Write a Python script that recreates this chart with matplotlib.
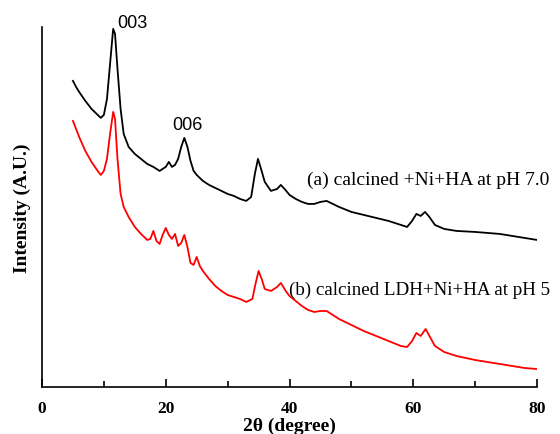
import matplotlib.pyplot as plt

# XRD patterns (2theta in degree, intensity in arbitrary units)
two_theta_a = [5.0, 5.5, 6.0, 7.0, 8.0, 9.0, 9.5, 10.0, 10.5, 11.0, 11.5, 11.8, 12.2, 12.7,
               13.2, 14.0, 15.0, 16.0, 17.0, 18.0, 19.0, 20.0, 20.5, 21.0, 21.5, 22.0, 22.5,
               23.0, 23.5, 24.0, 24.5, 25.0, 26.0, 27.0, 28.0, 29.0, 30.0, 31.0, 32.0, 33.0,
               33.8, 34.4, 34.9, 35.4, 36.0, 37.0, 38.0, 38.6, 39.2, 40.0, 41.0, 42.0, 43.0,
               44.0, 45.0, 46.0, 47.0, 48.0, 50.0, 52.0, 54.0, 56.0, 58.0, 59.0, 59.8, 60.5,
               61.2, 61.9, 62.6, 63.5, 65.0, 67.0, 70.0, 72.0, 74.0, 76.0, 78.0, 80.0]
intensity_a = [306, 300, 295, 286, 278, 272, 269, 272, 288, 323, 358, 353, 318, 278,
               253, 240, 233, 228, 223, 220, 216, 220, 225, 220, 222, 228, 240,
               249, 240, 226, 216, 212, 206, 202, 199, 196, 193, 191, 188, 186,
               190, 213, 228, 218, 205, 196, 198, 202, 198, 192, 188, 185, 183,
               183, 185, 186, 183, 180, 175, 172, 169, 166, 162, 160, 166, 173,
               171, 175, 170, 162, 158, 156, 155, 154, 153, 151, 149, 147]

two_theta_b = [5.0, 5.5, 6.0, 7.0, 8.0, 9.0, 9.5, 10.0, 10.5, 11.0, 11.5, 11.8, 12.2, 12.7,
               13.2, 14.0, 15.0, 16.0, 17.0, 17.5, 18.0, 18.5, 19.0, 19.5, 20.0, 20.5, 21.0,
               21.5, 22.0, 22.5, 23.0, 23.5, 24.0, 24.5, 25.0, 25.5, 26.0, 27.0, 28.0, 29.0,
               30.0, 31.0, 32.0, 33.0, 34.0, 34.5, 35.0, 35.5, 36.0, 37.0, 38.0, 38.6, 39.5,
               40.0, 41.0, 42.0, 43.0, 44.0, 45.0, 46.0, 47.0, 48.0, 50.0, 52.0, 54.0, 56.0,
               58.0, 59.0, 59.8, 60.5, 61.2, 62.0, 62.7, 63.5, 65.0, 67.0, 70.0, 72.0, 74.0,
               76.0, 78.0, 80.0]
intensity_b = [266, 258, 250, 236, 225, 216, 212, 216, 228, 253, 275, 268, 228, 193,
               180, 170, 160, 153, 147, 148, 156, 146, 143, 152, 159, 152, 148,
               153, 141, 144, 152, 140, 124, 122, 130, 121, 116, 108, 101, 96,
               92, 90, 88, 85, 88, 103, 116, 108, 98, 96, 100, 104, 95,
               91, 86, 81, 77, 75, 76, 76, 72, 68, 62, 56, 51, 46,
               41, 40, 46, 54, 51, 58, 50, 41, 35, 31, 27, 25, 23,
               21, 19, 18]

fig = plt.figure(figsize=(5.6, 4.35), dpi=100)
ax = fig.add_axes([0.075, 0.108, 0.884, 0.828])

ax.plot(two_theta_a, intensity_a, color="black", linewidth=1.3)
ax.plot(two_theta_b, intensity_b, color="red", linewidth=1.3)

serif = ["Liberation Serif", "DejaVu Serif"]
sans = ["Liberation Sans", "DejaVu Sans"]

ax.text(14.6, 360, "003", family=sans, fontsize=13, ha="center", va="baseline", clip_on=False)
ax.text(23.5, 258, "006", family=sans, fontsize=13, ha="center", va="baseline")
ax.text(42.8, 203, "(a) calcined +Ni+HA at pH 7.0", family=serif, fontsize=14, va="baseline")
ax.text(39.9, 93, "(b) calcined LDH+Ni+HA at pH 5", family=serif, fontsize=13.7,
        va="baseline", clip_on=False)

ax.set_xlim(0, 80)
ax.set_ylim(0, 360)
ax.set_xticks([0, 20, 40, 60, 80])
ax.set_xticks([10, 30, 50, 70], minor=True)
ax.set_yticks([])
ax.tick_params(axis="x", which="major", direction="in", length=6, width=1.2, pad=9)
ax.tick_params(axis="x", which="minor", direction="in", length=4, width=1.2)
for lab in ax.get_xticklabels():
    lab.set_family(serif)
    lab.set_fontweight("bold")
    lab.set_fontsize(12.5)

ax.spines["top"].set_visible(False)
ax.spines["right"].set_visible(False)
ax.spines["left"].set_linewidth(1.2)
ax.spines["bottom"].set_linewidth(1.2)

ax.set_xlabel("2θ (degree)", family=serif, fontweight="bold", fontsize=14, labelpad=1)
ax.set_ylabel("Intensity (A.U.)", family=serif, fontweight="bold", fontsize=14, labelpad=8)

fig.savefig("out.png", dpi=100)
